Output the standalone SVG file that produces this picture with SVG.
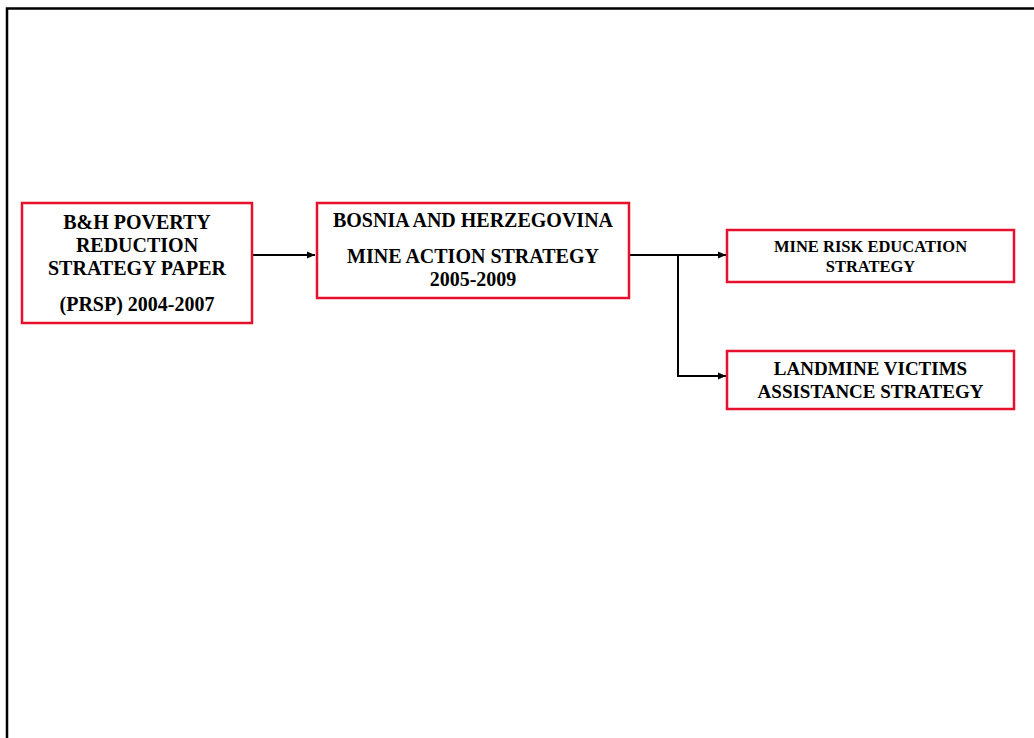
<svg xmlns="http://www.w3.org/2000/svg" width="1034" height="738" viewBox="0 0 1034 738">
<defs>
<style>
.box{fill:#fff;stroke:#e8112d;stroke-width:2.5}
.t{font-family:"Liberation Serif","Times New Roman",serif;font-weight:bold;fill:#000;text-anchor:middle}
.big{font-size:20px}
.mid{font-size:19px}
.small{font-size:16.5px}
.c{fill:none;stroke:#000;stroke-width:2}
</style>
<marker id="ah" markerWidth="9" markerHeight="9" refX="8" refY="4.5" orient="auto" markerUnits="userSpaceOnUse">
<path d="M0,1 L8,4.5 L0,8 Z" fill="#000"/>
</marker>
</defs>
<rect width="1034" height="738" fill="#fff"/>
<path d="M7,738 V8.5 H1034" fill="none" stroke="#000" stroke-width="2.5"/>
<g id="connectors">
<path class="c" d="M252,255 H315" marker-end="url(#ah)"/>
<path class="c" d="M629,255 H726" marker-end="url(#ah)"/>
<path class="c" d="M678,255 V376 H726" marker-end="url(#ah)"/>
</g>
<g id="prsp">
<rect class="box" x="22" y="203" width="230" height="120"/>
<text class="t big" x="137" y="229">B&amp;H POVERTY</text>
<text class="t big" x="137" y="252">REDUCTION</text>
<text class="t big" x="137" y="275">STRATEGY PAPER</text>
<text class="t big" x="137" y="311">(PRSP) 2004-2007</text>
</g>
<g id="mas">
<rect class="box" x="317" y="203" width="312" height="95"/>
<text class="t big" x="473" y="227">BOSNIA AND HERZEGOVINA</text>
<text class="t big" x="473" y="263">MINE ACTION STRATEGY</text>
<text class="t big" x="473" y="286">2005-2009</text>
</g>
<g id="mre">
<rect class="box" x="727" y="230" width="287" height="52"/>
<text class="t small" x="870.5" y="252">MINE RISK EDUCATION</text>
<text class="t small" x="870.5" y="272">STRATEGY</text>
</g>
<g id="lva">
<rect class="box" x="727" y="351" width="287" height="58"/>
<text class="t mid" x="870.5" y="375">LANDMINE VICTIMS</text>
<text class="t mid" x="870.5" y="398">ASSISTANCE STRATEGY</text>
</g>
</svg>
